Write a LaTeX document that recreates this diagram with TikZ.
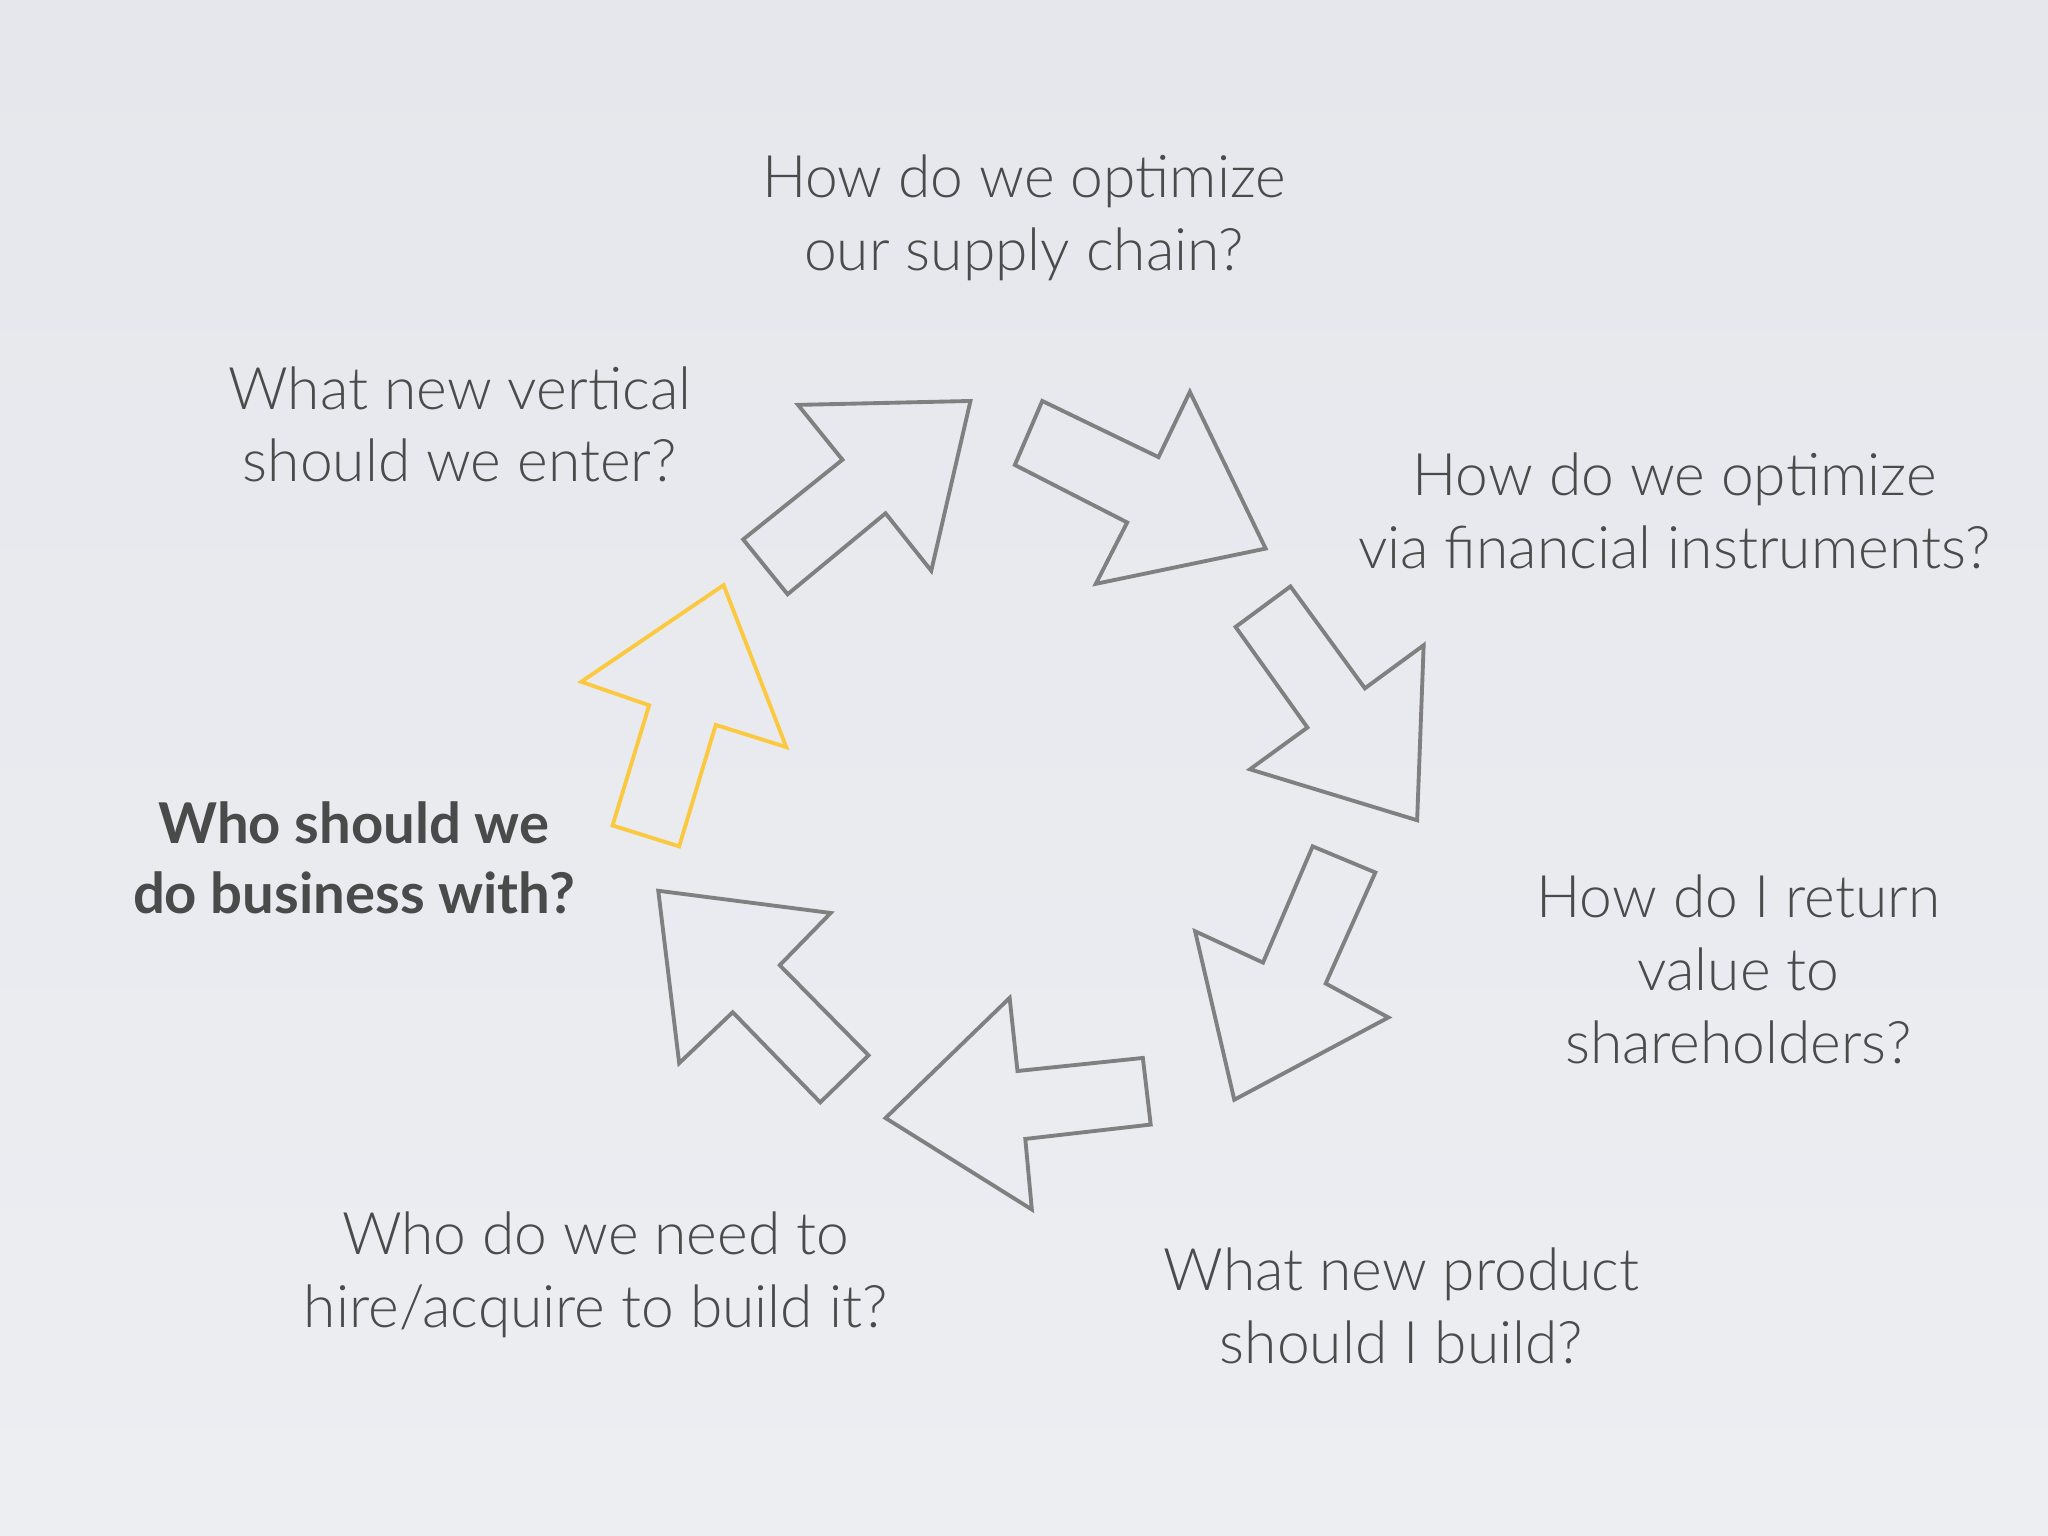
\documentclass[tikz,border=0pt]{standalone}
\usepackage{fontspec}
\setmainfont{Lato}[UprightFont=* Light, BoldFont=* Bold]
\begin{document}
\begin{tikzpicture}[x=0.013061cm,y=-0.013061cm,
  q/.style={align=center,text=txtgrey,font=\fontsize{16.7}{20.7}\selectfont,inner sep=0pt},
  qb/.style={align=center,text=boldgrey,font=\fontsize{16}{20}\selectfont\bfseries,inner sep=0pt},
  arr/.style={draw=arrgrey,line width=1.1pt,line join=miter},
  arry/.style={draw=arryellow,line width=1.1pt,line join=miter}]
\definecolor{txtgrey}{HTML}{4B4B4B}
\definecolor{boldgrey}{HTML}{4A4A4A}
\definecolor{arrgrey}{HTML}{808080}
\definecolor{arryellow}{HTML}{FBC940}
\definecolor{bgtop}{HTML}{E5E7EC}
\definecolor{bgmid}{HTML}{F1F2F5}
\definecolor{bgbot}{HTML}{EDEEF2}
\useasboundingbox (0,0) rectangle (1568,1176);
\shade[top color=bgtop,middle color=bgmid,bottom color=bgbot] (0,0) rectangle (1568,1176);
% arrows
\draw[arr] (611,310) -- (743,307) -- (713,437) -- (678,393) -- (603,455) -- (569,413) -- (645,352) -- cycle;
\draw[arr] (798,307) -- (887,350) -- (911,300) -- (969,420) -- (839,447) -- (863,400) -- (777,356) -- cycle;
\draw[arr] (988,449) -- (1045,527) -- (1090,494) -- (1085,628) -- (957,589) -- (1001,557) -- (946,480) -- cycle;
\draw[arr] (1005,648) -- (1053,668) -- (1015,753) -- (1063,779) -- (945,842) -- (915,713) -- (967,737) -- cycle;
\draw[arr] (678,856) -- (773,764) -- (779,820) -- (875,810) -- (881,861) -- (785,872) -- (790,926) -- cycle;
\draw[arr] (504,682) -- (636,699) -- (597,739) -- (665,808) -- (628,844) -- (561,775) -- (520,814) -- cycle;
\draw[arry] (554,448) -- (602,572) -- (548,555) -- (520,648) -- (469,632) -- (497,540) -- (445,522) -- cycle;
% texts
\node[q] (t1) at (784,167) {How do we optimize\\our supply chain?};
\node[q] (t2) at (352,325) {What new vertical\\should we enter?};
\node[q] (t3) at (1282,391) {How do we optimize\\via financial instruments?};
\node[q] (t4) at (1331,742) {How do I return\\value to\\shareholders?};
\node[q] (t5) at (1073,1000) {What new product\\should I build?};
\node[q] (t6) at (456,976) {Who do we need to\\hire/acquire to build it?};
\node[qb] (t7) at (271,657) {Who should we\\do business with?};
\end{tikzpicture}
\end{document}
